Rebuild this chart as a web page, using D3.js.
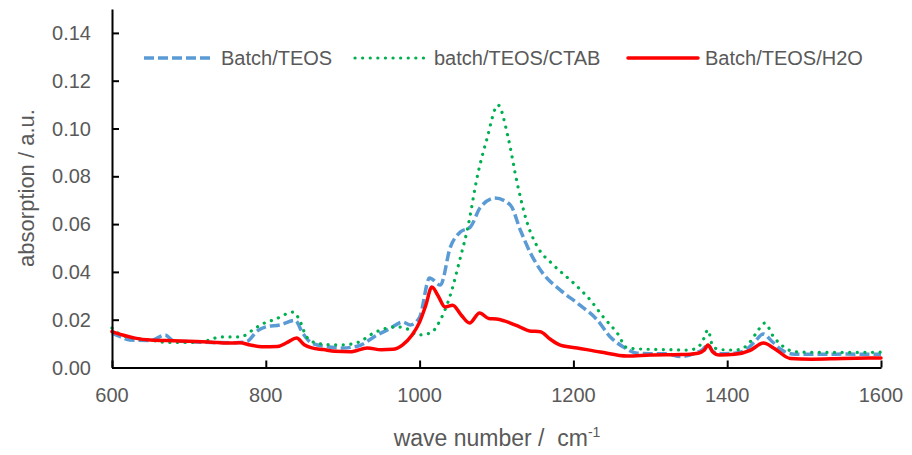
<!DOCTYPE html>
<html>
<head>
<meta charset="utf-8">
<script src="https://cdn.jsdelivr.net/npm/d3@7"></script>
<style>
  body { margin: 0; background: #fff; }
  text { font-family: "Liberation Sans", Arial, sans-serif; fill: #595959; }
</style>
</head>
<body>
<svg width="912" height="455"></svg>
<script>
"use strict";

// wave numbers (cm-1) and absorption values, per series
const teosX = [600, 610, 623, 650, 669, 680, 700, 730, 760, 775, 789, 800, 818, 838, 848, 860, 880, 900, 920, 945, 960, 978, 988, 1000, 1013, 1027, 1040, 1053, 1066, 1079, 1098, 1118, 1131, 1144, 1160, 1183, 1209, 1231, 1248, 1265, 1283, 1300, 1320, 1339, 1360, 1368, 1375, 1382, 1395, 1410, 1425, 1435, 1447, 1458, 1470, 1482, 1500, 1550, 1600];
const teosY = [0.0145, 0.013, 0.0115, 0.0113, 0.0136, 0.0112, 0.0108, 0.0105, 0.0104, 0.0108, 0.0153, 0.0170, 0.0178, 0.0197, 0.0144, 0.0102, 0.0087, 0.0082, 0.009, 0.0136, 0.016, 0.019, 0.0178, 0.021, 0.0375, 0.0345, 0.0504, 0.0567, 0.0588, 0.067, 0.0709, 0.068, 0.0575, 0.048, 0.0395, 0.0324, 0.026, 0.0199, 0.0128, 0.0086, 0.006, 0.0058, 0.0058, 0.0046, 0.0062, 0.0075, 0.0095, 0.0065, 0.0058, 0.0060, 0.0075, 0.0105, 0.014, 0.011, 0.0075, 0.0058, 0.0055, 0.0056, 0.0055];

const ctabX = [600, 610, 625, 650, 670, 700, 727, 740, 766, 789, 801, 810, 836, 845, 853, 866, 885, 900, 920, 940, 970, 985, 997, 1014, 1027, 1040, 1053, 1062, 1076, 1087, 1102, 1115, 1127, 1140, 1152, 1174, 1200, 1222, 1239, 1257, 1270, 1291, 1320, 1350, 1362, 1368, 1375, 1381, 1390, 1410, 1425, 1437, 1449, 1460, 1472, 1485, 1500, 1550, 1600];
const ctabY = [0.0165, 0.014, 0.0125, 0.0115, 0.0105, 0.0105, 0.0115, 0.0128, 0.0128, 0.017, 0.019, 0.0199, 0.0232, 0.019, 0.0128, 0.0102, 0.0095, 0.0095, 0.0105, 0.0144, 0.017, 0.016, 0.0136, 0.0144, 0.0199, 0.0303, 0.046, 0.0575, 0.0814, 0.095, 0.1098, 0.0964, 0.077, 0.0604, 0.0512, 0.0429, 0.0354, 0.0282, 0.0211, 0.0144, 0.0082, 0.0077, 0.0075, 0.0073, 0.0085, 0.011, 0.0157, 0.009, 0.0075, 0.0073, 0.009, 0.014, 0.0186, 0.013, 0.009, 0.0068, 0.0064, 0.0063, 0.0064];

const h2oX = [600, 615, 630, 650, 680, 700, 730, 750, 766, 780, 795, 815, 828, 840, 850, 860, 875, 890, 910, 932, 950, 965, 978, 990, 1000, 1008, 1016, 1024, 1033, 1043, 1054, 1065, 1078, 1090, 1100, 1110, 1118, 1130, 1143, 1157, 1170, 1183, 1205, 1235, 1270, 1300, 1340, 1362, 1370, 1375, 1381, 1390, 1410, 1430, 1447, 1462, 1482, 1510, 1550, 1600];
const h2oY = [0.0150, 0.0135, 0.0123, 0.0115, 0.0112, 0.0110, 0.0106, 0.0102, 0.0104, 0.0094, 0.0087, 0.0088, 0.0105, 0.0123, 0.0095, 0.0082, 0.0075, 0.0068, 0.0066, 0.0082, 0.0074, 0.0076, 0.0095, 0.0135, 0.019, 0.026, 0.0337, 0.030, 0.0253, 0.026, 0.022, 0.0186, 0.0228, 0.0205, 0.0203, 0.0195, 0.0186, 0.017, 0.0153, 0.015, 0.0118, 0.0094, 0.0082, 0.0065, 0.0048, 0.0052, 0.0054, 0.006, 0.0072, 0.0094, 0.0066, 0.0052, 0.0055, 0.0072, 0.0102, 0.0078, 0.0038, 0.0035, 0.0038, 0.0040];

const seriesNames = ["Batch/TEOS", "batch/TEOS/CTAB", "Batch/TEOS/H2O"];
const xTicks = [600, 800, 1000, 1200, 1400, 1600];
const yTicks = [0, 0.02, 0.04, 0.06, 0.08, 0.10, 0.12, 0.14];

const series = [
    {name: seriesNames[0], xs: teosX, ys: teosY, color: "#5B9BD5", dash: "10,4", width: 3.5, cap: "butt"},
    {name: seriesNames[1], xs: ctabX, ys: ctabY, color: "#00B050", dash: "0.1,7.5", width: 3.2, cap: "round"},
    {name: seriesNames[2], xs: h2oX, ys: h2oY, color: "#FF0000", dash: null, width: 3.5, cap: "round"}
];

window.addEventListener("load", drawChart);

function drawChart() {
    const svg = d3.select("svg");

    const x = d3.scaleLinear().domain([600, 1600]).range([112, 881]);
    const y = d3.scaleLinear().domain([0, 0.15]).range([367.5, 9]);

    const line = d3.line()
        .x(d => x(d[0]))
        .y(d => y(d[1]))
        .curve(d3.curveMonotoneX);

    // curves first, axes on top like the original
    svg.append("g").selectAll("path")
        .data(series)
        .join("path")
            .attr("fill", "none")
            .attr("stroke", d => d.color)
            .attr("stroke-width", d => d.width)
            .attr("stroke-dasharray", d => d.dash)
            .attr("stroke-linecap", d => d.cap)
            .attr("stroke-linejoin", "round")
            .attr("d", d => line(d3.zip(d.xs, d.ys)));

    // axes: ticks point inward, labels drawn separately
    const xAxis = svg.append("g")
        .attr("transform", `translate(0, ${y(0)})`)
        .call(d3.axisTop(x).tickValues(xTicks).tickSize(7).tickFormat("").tickSizeOuter(0));
    const yAxis = svg.append("g")
        .attr("transform", `translate(${x(600)}, 0)`)
        .call(d3.axisRight(y).tickValues(yTicks).tickSize(7).tickFormat("").tickSizeOuter(0));
    [xAxis, yAxis].forEach(a => {
        a.selectAll("path, line").attr("stroke", "#000").attr("stroke-width", 2);
    });

    svg.append("g").selectAll("text")
        .data(xTicks)
        .join("text")
            .attr("x", d => x(d))
            .attr("y", 402)
            .attr("text-anchor", "middle")
            .attr("font-size", 20)
            .text(d => d);

    svg.append("g").selectAll("text")
        .data(yTicks)
        .join("text")
            .attr("x", 91)
            .attr("y", d => y(d) + 7)
            .attr("text-anchor", "end")
            .attr("font-size", 20)
            .text(d => d.toFixed(2));

    const xTitle = svg.append("text")
        .attr("x", 497)
        .attr("y", 446)
        .attr("text-anchor", "middle")
        .attr("font-size", 23)
        .style("white-space", "pre");
    xTitle.append("tspan").text("wave number /  cm");
    xTitle.append("tspan").attr("font-size", 14).attr("dy", -9).text("-1");

    svg.append("text")
        .attr("font-size", 22)
        .attr("text-anchor", "middle")
        .attr("transform", `translate(34 188) rotate(-90)`)
        .text("absorption / a.u.");

    // legend
    const legendX = [144, 355, 628];
    const legend = svg.append("g").selectAll("g")
        .data(series)
        .join("g")
            .attr("transform", (d, i) => `translate(${legendX[i]}, 58)`);
    legend.append("line")
        .attr("x1", 0).attr("x2", 70)
        .attr("stroke", d => d.color)
        .attr("stroke-width", d => d.width)
        .attr("stroke-dasharray", d => d.dash)
        .attr("stroke-linecap", d => d.cap);
    legend.append("text")
        .attr("x", (d, i) => [77, 79, 77][i])
        .attr("y", 7)
        .attr("font-size", 20)
        .text(d => d.name);
}
</script>
</body>
</html>
